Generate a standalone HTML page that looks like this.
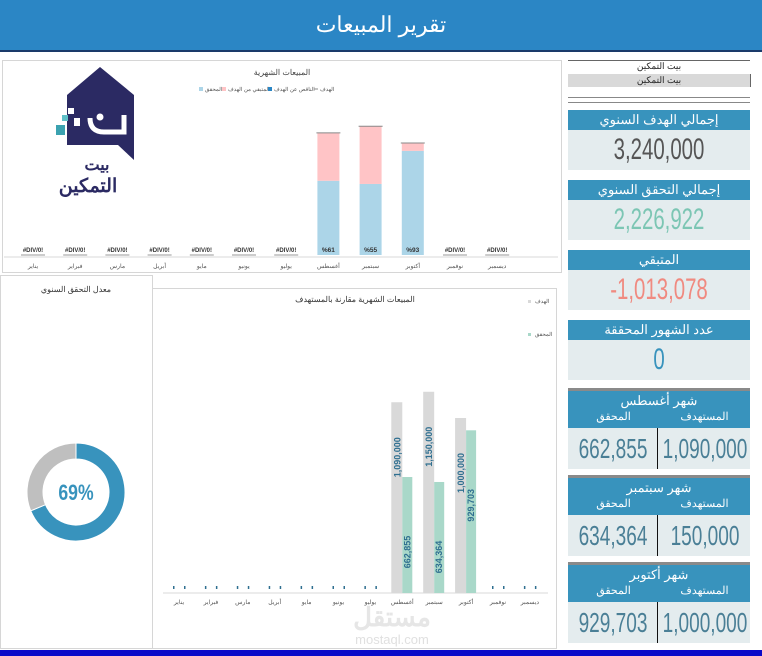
<!DOCTYPE html>
<html><head><meta charset="utf-8">
<style>
body{margin:0;width:762px;height:656px;position:relative;background:#fff;font-family:"Liberation Sans","Noto Sans CJK SC",sans-serif;overflow:hidden}
.abs{position:absolute}
.hdr{left:0;top:0;width:762px;height:50px;background:#2b86c5;color:#fff;font-size:22px;text-align:center;line-height:50px}
.panel{border:1px solid #d6d6d6;background:#fff}
.card-h{background:#3893bd;color:#fff;text-align:center;font-size:13px}
.card-v{background:#e4ecee;text-align:center}
.cell{overflow:visible}
.num{position:absolute;left:50%;top:0;white-space:nowrap;transform:translateX(-50%) scaleX(0.68);font-size:30px}
</style></head><body>
<div class="abs hdr">تقرير المبيعات</div>
<div class="abs" style="left:0;top:50px;width:762px;height:2px;background:#1a3a6a"></div>
<div class="abs" style="left:0;top:650px;width:762px;height:6px;background:#0a0ac8"></div>

<div class="abs panel" style="left:2px;top:60px;width:558px;height:211px"></div>
<svg class="abs" style="left:0;top:0" width="762" height="656" id="topsvg">
 <g>
  <path d="M67 95 L100 67 L134 95 L134 160 L118 145 L67 145 Z" fill="#2b2a63"/>
  <rect x="56" y="125" width="9" height="10" fill="#3ba2b0"/>
  <rect x="62" y="115" width="6" height="6" fill="#5fc0c8"/>
  <rect x="68" y="108" width="6" height="6" fill="#fff"/>
  <rect x="74" y="118" width="6" height="8" fill="#fff"/>
  <path d="M90 118 Q90 132 104 132 L124 132 L124 115" stroke="#fff" stroke-width="5" fill="none"/>
  <circle cx="100" cy="117" r="3.5" fill="#fff"/>
  <text x="97" y="170" text-anchor="middle" font-size="16" font-weight="bold" fill="#2b2a63">بيت</text>
  <text x="88" y="192" text-anchor="middle" font-size="19" font-weight="bold" fill="#2b2a63">التمكين</text>
 </g>
 <text x="282" y="75" text-anchor="middle" font-size="8" fill="#444">المبيعات الشهرية</text>
 <g font-size="5.5" fill="#555">
  <rect x="199" y="87" width="4" height="4" fill="#acd5e8"/><text x="205" y="91">المحقق</text>
  <rect x="222" y="87" width="4" height="4" fill="#ffc4c6"/><text x="228" y="91">المتبقي من الهدف</text>
  <rect x="268" y="87" width="4" height="4" fill="#2a86c5"/><text x="274" y="91">الناقص عن الهدف</text>
  <line x1="314" y1="89" x2="318" y2="89" stroke="#888"/><text x="320" y="91">الهدف</text>
 </g>
 <line x1="4" y1="257" x2="558" y2="257" stroke="#d9d9d9"/>
 <g id="topbars"></g>
</svg>

<div class="abs panel" style="left:0;top:275px;width:151px;height:372px"></div>
<div class="abs panel" style="left:152px;top:288px;width:403px;height:359px"></div>
<svg class="abs" style="left:0;top:0" width="762" height="656" id="botsvg">
 <text x="76" y="292" text-anchor="middle" font-size="8" fill="#333">معدل التحقق السنوي</text>
 <g id="donut"></g>
 <text x="76" y="500" text-anchor="middle" font-size="22" font-weight="bold" fill="#3893bd" transform="translate(76 0) scale(0.8 1) translate(-76 0)">69%</text>
 <text x="355" y="302" text-anchor="middle" font-size="8" fill="#333">المبيعات الشهرية مقارنة بالمستهدف</text>
 <rect x="528" y="300" width="3" height="3" fill="#d9d9d9"/><text x="535" y="303" font-size="5.5" fill="#555">الهدف</text>
 <rect x="528" y="333" width="3" height="3" fill="#a9d8c9"/><text x="535" y="336" font-size="5.5" fill="#555">المحقق</text>
 <line x1="163" y1="593" x2="548" y2="593" stroke="#d9d9d9"/>
 <g id="botbars"></g>
 <text x="392" y="626" text-anchor="middle" font-size="26" font-weight="bold" fill="#e6e6e6">مستقل</text>
 <text x="392" y="644" text-anchor="middle" font-size="13" fill="#e0e0e0">mostaql.com</text>
</svg>

<div class="abs" style="left:568px;top:60px;width:182px;height:1px;background:#666"></div>
<div class="abs" style="left:568px;top:61px;width:182px;text-align:center;font-size:9px;color:#222">بيت التمكين</div>
<div class="abs" style="left:568px;top:74px;width:182px;height:13px;background:#d9d9d9;border-right:1px solid #666;text-align:center;font-size:9px;line-height:13px;color:#222">بيت التمكين</div>
<div class="abs" style="left:568px;top:97px;width:182px;height:4px;border-top:1px solid #888;border-bottom:1px solid #888"></div>

<div class="abs card-h" style="left:568px;top:110px;width:182px;height:20px;line-height:20px">إجمالي الهدف السنوي</div>
<div class="abs card-v cell" style="left:568px;top:130px;width:182px;height:40px;line-height:40px;color:#555"><span class="num">3,240,000</span></div>
<div class="abs card-h" style="left:568px;top:180px;width:182px;height:20px;line-height:20px">إجمالي التحقق السنوي</div>
<div class="abs card-v cell" style="left:568px;top:200px;width:182px;height:40px;line-height:40px;color:#7cc6b4"><span class="num">2,226,922</span></div>
<div class="abs card-h" style="left:568px;top:250px;width:182px;height:20px;line-height:20px">المتبقي</div>
<div class="abs card-v cell" style="left:568px;top:270px;width:182px;height:40px;line-height:40px;color:#f08a80"><span class="num">-1,013,078</span></div>
<div class="abs card-h" style="left:568px;top:320px;width:182px;height:20px;line-height:20px">عدد الشهور المحققة</div>
<div class="abs card-v cell" style="left:568px;top:340px;width:182px;height:40px;line-height:40px;color:#3893bd"><span class="num">0</span></div>

<div id="months"></div>

<script>
const months=["يناير","فبراير","مارس","أبريل","مايو","يونيو","يوليو","أغسطس","سبتمبر","أكتوبر","نوفمبر","ديسمبر"];
const targets=[0,0,0,0,0,0,0,1090000,1150000,1000000,0,0];
const actuals=[0,0,0,0,0,0,0,662855,634364,929703,0,0];
const NS="http://www.w3.org/2000/svg";
function mk(tag,attrs,parent,txt){const e=document.createElementNS(NS,tag);for(const k in attrs)e.setAttribute(k,attrs[k]);if(txt!==undefined)e.textContent=txt;parent.appendChild(e);return e;}
const tg=document.getElementById('topbars');
const tx=i=>33+i*42.2, ty=v=>255-v*0.000112;
months.forEach((m,i)=>{
  const c=tx(i);
  const l=mk('text',{x:c,y:268,'text-anchor':'middle','font-size':6,fill:'#555'},tg,m);
  
  
  if(targets[i]>0){
    const b=mk('rect',{x:c-11,y:ty(actuals[i]),width:22,height:255-ty(actuals[i]),fill:'#acd5e8'},tg);
    
    
    const r=mk('rect',{x:c-11,y:ty(targets[i]),width:22,height:ty(actuals[i])-ty(targets[i]),fill:'#ffc4c6'},tg);
    
    
    mk('line',{x1:c-12,x2:c+12,y1:ty(targets[i]),y2:ty(targets[i]),stroke:'#888','stroke-width':1},tg);
    const p=mk('text',{x:c,y:252,'text-anchor':'middle','font-size':6.5,'font-weight':'bold',fill:'#333'},tg,'%'+Math.round(actuals[i]/targets[i]*100));
    
    
  } else {
    const p=mk('text',{x:c,y:252,'text-anchor':'middle','font-size':6,'font-weight':'bold',fill:'#333'},tg,'#DIV/0!');
    
    
    mk('line',{x1:c-12,x2:c+12,y1:255,y2:255,stroke:'#999'},tg);
  }
});
const bg=document.getElementById('botbars');
const bx=i=>179+i*31.9, by=v=>593-v*0.000175;
months.forEach((m,i)=>{
  const c=bx(i);
  const l=mk('text',{x:c,y:604,'text-anchor':'middle','font-size':6,fill:'#555'},bg,m);
  
  
  if(targets[i]>0){
    const b=mk('rect',{x:c-11,y:by(targets[i]),width:11,height:593-by(targets[i]),fill:'#d9d9d9'},bg);
    
    
    const g=mk('rect',{x:c,y:by(actuals[i]),width:10,height:593-by(actuals[i]),fill:'#a9d8c9'},bg);
    
    
    const t1=mk('text',{transform:`translate(${c-2} ${by(targets[i])+55}) rotate(-90)`,'text-anchor':'middle','font-size':9,'font-weight':'bold',fill:'#2f6f90'},bg,targets[i].toLocaleString('en-US'));
    
    
    const t2=mk('text',{transform:`translate(${c+8} ${Math.min(593-30,by(actuals[i])+75)}) rotate(-90)`,'text-anchor':'middle','font-size':9,'font-weight':'bold',fill:'#2f6f90'},bg,actuals[i].toLocaleString('en-US'));
    
    
  } else {
    mk('rect',{x:c-6,y:586,width:1.5,height:3,fill:'#2f6f90'},bg);
    mk('rect',{x:c+5,y:586,width:1.5,height:3,fill:'#2f6f90'},bg);
  }
});
const dg=document.getElementById('donut');
const tot=targets.reduce((a,b)=>a+b,0), act=actuals.reduce((a,b)=>a+b,0);
const frac=act/tot, cx=76, cy=492, R=49, r=33;
function arc(a0,a1,col,name){
  const p=(a,rr)=>[cx+rr*Math.sin(a),cy-rr*Math.cos(a)];
  const lg=(a1-a0)>Math.PI?1:0;
  const [x0,y0]=p(a0,R),[x1,y1]=p(a1,R),[x2,y2]=p(a1,r),[x3,y3]=p(a0,r);
  const e=mk('path',{d:`M${x0} ${y0} A${R} ${R} 0 ${lg} 1 ${x1} ${y1} L${x2} ${y2} A${r} ${r} 0 ${lg} 0 ${x3} ${y3}Z`,fill:col,stroke:'#fff','stroke-width':1},dg);
  
  
}
arc(0,frac*2*Math.PI,'#3893bd','donut-achieved');
arc(frac*2*Math.PI,2*Math.PI,'#bfbfbf','donut-remaining');
const cards=[["شهر أغسطس",662855,1090000,391],["شهر سبتمبر",634364,150000,478],["شهر أكتوبر",929703,1000000,565]];
const mc=document.getElementById('months');
cards.forEach(([n,a,t,y])=>{
  const d=document.createElement('div');
  
  
  d.innerHTML=`<div class="abs" style="left:568px;top:${y-3}px;width:182px;height:3px;background:#8a8a8a"></div>
  <div class="abs card-h" style="left:568px;top:${y}px;width:182px;height:37px"><div style="line-height:19px">${n}</div>
  <div style="display:flex;font-size:11px;line-height:14px"><span style="flex:1">المحقق</span><span style="flex:1">المستهدف</span></div></div>
  <div class="abs card-v" style="left:568px;top:${y+37}px;width:182px;height:41px;color:#4a7f96;line-height:41px">
  <div class="abs cell" style="left:0;top:0;width:89px;height:41px;border-right:1.5px solid #111"><span class="num" style="font-size:28px">${a.toLocaleString('en-US')}</span></div>
  <div class="abs cell" style="left:91px;top:0;width:91px;height:41px"><span class="num" style="font-size:28px">${t.toLocaleString('en-US')}</span></div></div>`;
  mc.appendChild(d);
});
</script>
</body></html>
